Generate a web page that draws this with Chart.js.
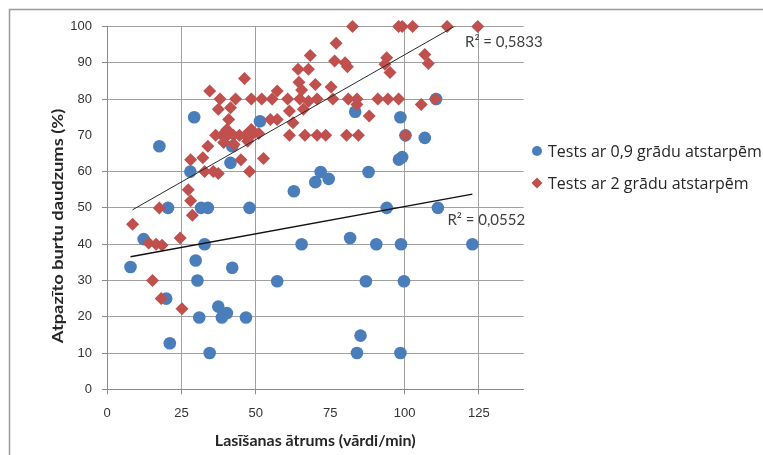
<!DOCTYPE html>
<html>
<head>
<meta charset="utf-8">
<script src="https://cdn.jsdelivr.net/npm/chart.js@4.4.1/dist/chart.umd.min.js"></script>
<style>
  html, body { margin: 0; padding: 0; background: #ffffff; }
  canvas { display: block; }
</style>
</head>
<body>
<canvas id="c" width="763" height="455"></canvas>
<script>
// Reading speed (words/min) and recognised letters (%) for each test
const seriesNames = ['Tests ar 0,9 grādu atstarpēm', 'Tests ar 2 grādu atstarpēm'];

const speed09 = [7.9, 12.3, 17.6, 20.5, 19.9, 21.1, 28, 29.3, 29.8, 30.4, 31, 31.6, 32.8, 33.9, 34.5,
  37.4, 38.6, 40.3, 41.5, 42.1, 42.1, 46.7, 47.9, 51.4, 57.2, 62.8, 65.4, 70, 71.8, 74.5, 81.7, 83.4,
  84, 85.2, 87, 87.9, 90.5, 94, 98.1, 98.6, 98.6, 98.8, 99.2, 99.8, 100.3, 106.8, 110.6, 111.2, 122.8];
const recog09 = [33.7, 41.4, 67, 50, 25, 12.7, 60, 75, 35.5, 30, 19.8, 50, 40, 50, 10,
  22.8, 19.8, 21, 62.4, 67, 33.5, 19.8, 50, 73.9, 29.8, 54.6, 40, 57.1, 59.9, 58, 41.7, 76.5,
  10, 14.8, 29.8, 59.9, 40, 50, 63.3, 75, 10, 40, 64, 29.8, 70, 69.3, 80, 50, 40];

const speed2 = [82.5, 98, 99.2, 102.7, 114.3, 124.6, 77, 68.3, 106.8, 94, 108, 76.5, 80, 93.4, 95.1,
  80.8, 64.2, 67.7, 46.2, 64.5, 65.4, 70, 75.3, 57.2, 34.5,
  38, 43.2, 48.5, 52, 55.5, 60.7, 64.8, 70.6, 75.9, 81.1, 84, 91, 94.4, 98, 110.3,
  67.7, 84, 105.6, 41.5, 37.4, 61.3, 66, 88.1, 54.9, 57.2, 40.9, 62.5, 40.3, 48.5,
  36.5, 38.6, 40.5, 42.5, 44.5, 46.5, 48.5, 51, 61.3, 66.5, 70.6, 73.5, 80.5, 84.5, 100.3,
  33.9, 39.2, 42.7, 47.3, 28.1, 32.2, 45, 52.6, 32.8, 35.7, 37.4, 47.9,
  27.3, 28.1, 17.6, 28.7, 8.6, 14, 16.5, 18.5, 24.6, 15.3, 18.2, 25.2];
const recog2 = [100, 100, 100, 100, 100, 100, 95.4, 92, 92.3, 91.4, 89.8, 90.5, 90, 89.6, 87.3,
  88.9, 88.2, 88.2, 85.7, 84.6, 82.5, 84, 83.3, 82.2, 82.2,
  80, 80, 80, 80, 80, 80, 80, 80, 80, 80, 80, 80, 80, 80, 80,
  79.4, 78.5, 78.5, 77.6, 77.2, 76.7, 77.2, 75.3, 74.4, 74.4, 74.4, 73.5, 71.6, 71.6,
  70, 70, 70, 70, 70, 70, 70, 70.5, 70, 70, 70, 70, 70, 70, 70,
  67, 68, 67.5, 68.4, 63.3, 63.8, 63.3, 63.6, 60, 60, 59.5, 60,
  55, 52, 50, 48, 45.5, 40.3, 40, 39.7, 41.7, 30, 25, 22.2];

const xTicks = [0, 25, 50, 75, 100, 125];
const yTicks = [0, 10, 20, 30, 40, 50, 60, 70, 80, 90, 100];
const r2Text = ['R² = 0,0552', 'R² = 0,5833'];
const yTitle = 'Atpazīto burtu daudzums (%)';

const BLUE = '#4a7ebb';
const RED = '#c0504d';
const GRID = '#a0a0a0';

const toPoints = (xs, ys) => xs.map((x, i) => ({ x: x, y: ys[i] }));

// Least-squares straight line over the range of the series
function trendLine(xs, ys) {
  const n = xs.length;
  let sx = 0, sy = 0, sxx = 0, sxy = 0;
  for (let i = 0; i < n; i++) {
    sx += xs[i]; sy += ys[i]; sxx += xs[i] * xs[i]; sxy += xs[i] * ys[i];
  }
  const b = (n * sxy - sx * sy) / (n * sxx - sx * sx);
  const a = (sy - b * sx) / n;
  const x0 = Math.min(...xs), x1 = Math.max(...xs);
  return [{ x: x0, y: a + b * x0 }, { x: x1, y: a + b * x1 }];
}

// Frame, vertical axis title, trendline equations and legend
const decorations = {
  id: 'decorations',
  beforeDraw(chart) {
    const c = chart.ctx;
    c.save();
    c.strokeStyle = '#9a9a9a';
    c.lineWidth = 1.5;
    c.beginPath();
    c.moveTo(9.5, 455); c.lineTo(9.5, 9.5); c.lineTo(763, 9.5);
    c.stroke();
    c.restore();
  },
  afterDraw(chart) {
    const c = chart.ctx;
    const xs = chart.scales.x, ys = chart.scales.y;
    c.save();

    // vertical axis title, drawn a little elongated along its run
    c.save();
    c.translate(58, 226);
    c.rotate(-Math.PI / 2);
    c.scale(1.22, 1);
    c.font = 'bold 15px Lato, "Open Sans", sans-serif';
    c.fillStyle = '#262626';
    c.textAlign = 'center';
    c.textBaseline = 'middle';
    c.fillText(yTitle, 0, 0);
    c.restore();

    c.font = '15px Lato, "Open Sans", sans-serif';
    c.fillStyle = '#404040';
    c.textBaseline = 'middle';
    c.textAlign = 'left';
    c.fillText(r2Text[0], xs.getPixelForValue(114.4), ys.getPixelForValue(46.7));
    c.fillText(r2Text[1], xs.getPixelForValue(120.3), ys.getPixelForValue(95.6));

    const lx = 537, rows = [151, 183];
    c.font = '16px "Open Sans", Lato, sans-serif';
    rows.forEach((yy, i) => {
      c.fillStyle = i === 0 ? BLUE : RED;
      c.beginPath();
      if (i === 0) {
        c.arc(lx, yy, 5, 0, Math.PI * 2);
      } else {
        c.moveTo(lx, yy - 5.5); c.lineTo(lx + 5.5, yy); c.lineTo(lx, yy + 5.5); c.lineTo(lx - 5.5, yy);
        c.closePath();
      }
      c.fill();
      c.fillStyle = '#262626';
      c.fillText(seriesNames[i], lx + 11, yy + 1);
    });
    c.restore();
  }
};

const hiddenX = [75];
const hiddenY = [70];

new Chart(document.getElementById('c'), {
  type: 'scatter',
  data: {
    datasets: [
      { label: seriesNames[0], data: toPoints(speed09, recog09), backgroundColor: BLUE, borderColor: BLUE,
        borderWidth: 0, pointStyle: 'circle', pointRadius: 6.3, order: 2, clip: false },
      { label: seriesNames[1], data: toPoints(speed2, recog2), backgroundColor: RED, borderColor: RED,
        borderWidth: 0, pointStyle: 'rectRot', pointRadius: 6.5, order: 1, clip: false },
      { type: 'line', label: 'trend2', data: trendLine(speed2, recog2), borderColor: '#2a2a2a',
        borderWidth: 1, pointRadius: 0, order: 0, clip: 0, fill: false },
      { type: 'line', label: 'trend09', data: trendLine(speed09, recog09), borderColor: '#111111',
        borderWidth: 1.4, pointRadius: 0, order: 0, clip: 0, fill: false }
    ]
  },
  options: {
    responsive: false,
    animation: false,
    devicePixelRatio: 1,
    layout: { padding: { left: 0, top: 26.5, right: 239.4, bottom: 0 } },
    plugins: { legend: { display: false }, tooltip: { enabled: false } },
    scales: {
      x: {
        type: 'linear', min: 0, max: 140,
        afterBuildTicks: s => { s.ticks = xTicks.map(v => ({ value: v })); },
        afterFit: s => { s.height = 455 - 389.3; },
        ticks: { includeBounds: false, padding: 11, color: '#333333',
          font: { family: '"Liberation Sans Narrow", "Liberation Sans", sans-serif', size: 13 } },
        grid: {
          color: ctx => (ctx.tick && hiddenX.includes(ctx.tick.value)) ? 'rgba(0,0,0,0)' : GRID,
          tickColor: ctx => (ctx.tick && hiddenX.includes(ctx.tick.value)) ? 'rgba(0,0,0,0)' : '#8a8a8a',
          tickLength: 5, lineWidth: 1
        },
        border: { color: '#8a8a8a', width: 1 },
        title: { display: true, text: 'Lasīšanas ātrums (vārdi/min)', color: '#262626',
          font: { family: 'Lato, "Open Sans", sans-serif', size: 16, weight: 'bold' },
          padding: { top: 0, bottom: 5 } }
      },
      y: {
        type: 'linear', min: 0, max: 100,
        afterBuildTicks: s => { s.ticks = yTicks.map(v => ({ value: v })); },
        afterFit: s => { s.width = 107; },
        ticks: { padding: 10, color: '#333333',
          font: { family: '"Liberation Sans Narrow", "Liberation Sans", sans-serif', size: 13 } },
        grid: {
          color: ctx => (ctx.tick && hiddenY.includes(ctx.tick.value)) ? 'rgba(0,0,0,0)' : GRID,
          tickColor: ctx => (ctx.tick && hiddenY.includes(ctx.tick.value)) ? 'rgba(0,0,0,0)' : '#8a8a8a',
          tickLength: 5, lineWidth: 1
        },
        border: { color: '#8a8a8a', width: 1 },
        title: { display: false }
      }
    }
  },
  plugins: [decorations]
});
</script>
</body>
</html>
